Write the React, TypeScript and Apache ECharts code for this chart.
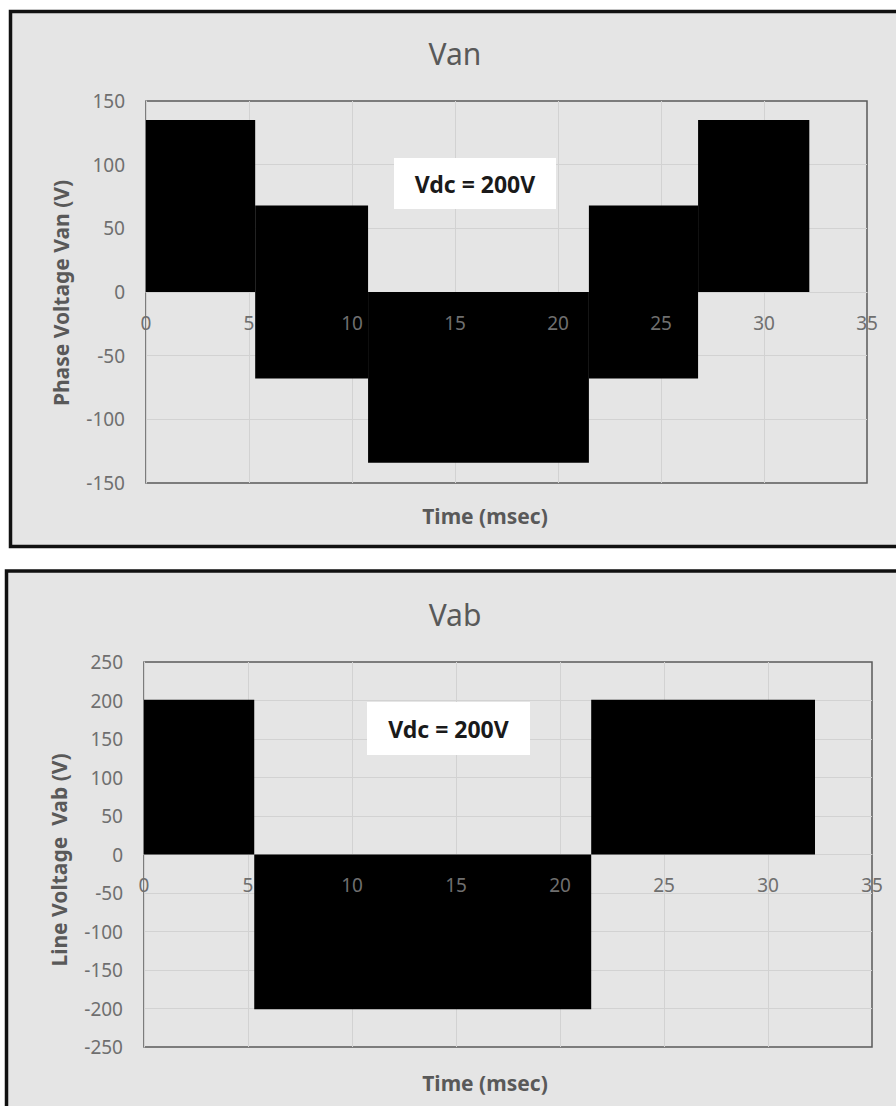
import React, { useEffect, useRef } from "react";
import * as echarts from "echarts";

// Time axis ticks (msec)
const timeTicks = [0, 5, 10, 15, 20, 25, 30, 35];
// Phase voltage Van blocks: [tStart, tEnd, vLow, vHigh]
const vanBlocks = [
  [0, 5.3, 0, 135],
  [5.3, 10.78, -68, 68],
  [10.78, 21.5, -134, 0],
  [21.5, 26.8, -68, 68],
  [26.8, 32.2, 0, 135],
];
// Line voltage Vab blocks: [tStart, tEnd, vLow, vHigh]
const vabBlocks = [
  [0, 5.3, 0, 201],
  [5.3, 21.5, -201, 0],
  [21.5, 32.26, 0, 201],
];
const vanTicks = [-150, -100, -50, 0, 50, 100, 150];
const vabTicks = [-250, -200, -150, -100, -50, 0, 50, 100, 150, 200, 250];

const FONT = "'Noto Sans', 'Open Sans', sans-serif";
const LABEL = "#6f6f6f";
const GRIDC = "#d2d2d2";

const GRID_TOP = { left: 146, top: 101, width: 721, height: 382 };
const GRID_BOT = { left: 144, top: 662, width: 728, height: 385 };

function renderBlock(params: any, api: any) {
  const p0 = api.coord([api.value(0), api.value(3)]);
  const p1 = api.coord([api.value(1), api.value(2)]);
  return {
    type: "rect",
    shape: { x: p0[0], y: p0[1], width: p1[0] - p0[0], height: p1[1] - p0[1] },
    style: { fill: "#000" },
  };
}

// x axis drawn at the zero line of the y axis
function xAxisFor(gridIndex: number, ticks: number[], gridHeight: number, labelsOnly: boolean) {
  const lo = ticks[0];
  const hi = ticks[ticks.length - 1];
  const zeroFromBottom = ((0 - lo) / (hi - lo)) * gridHeight;
  return {
    type: "value",
    gridIndex,
    position: "bottom",
    offset: -zeroFromBottom,
    z: labelsOnly ? 10 : 0,
    min: timeTicks[0],
    max: timeTicks[timeTicks.length - 1],
    interval: 5,
    axisLine: { show: !labelsOnly, onZero: false, lineStyle: { color: GRIDC, width: 1 } },
    axisTick: { show: false },
    axisLabel: { show: labelsOnly, color: LABEL, fontSize: 19, fontFamily: FONT, margin: 21 },
    splitLine: { show: !labelsOnly, showMinLine: false, showMaxLine: false, lineStyle: { color: GRIDC, width: 1 } },
  };
}

function yAxisFor(gridIndex: number, ticks: number[], step: number) {
  return {
    type: "value",
    gridIndex,
    min: ticks[0],
    max: ticks[ticks.length - 1],
    interval: step,
    axisLine: { show: true, onZero: false, lineStyle: { color: GRIDC, width: 1 } },
    axisTick: { show: false },
    axisLabel: { color: LABEL, fontSize: 19, fontFamily: FONT, margin: 21 },
    splitLine: { show: true, showMinLine: false, showMaxLine: false, lineStyle: { color: GRIDC, width: 1 } },
  };
}

export default function App() {
  const ref = useRef<HTMLDivElement>(null);
  useEffect(() => {
    if (!ref.current) return;
    const chart = echarts.init(ref.current, undefined, { renderer: "svg" });
    const textStyle = (t: string, size: number, weight: string, color: string) => ({
      text: t,
      fontSize: size,
      fontWeight: weight,
      fontFamily: FONT,
      fill: color,
      align: "center",
      verticalAlign: "middle",
    });
    chart.setOption({
      animation: false,
      backgroundColor: "#ffffff",
      grid: [
        { ...GRID_TOP, show: true, borderColor: "#5a5a5a", borderWidth: 1.5, backgroundColor: "transparent" },
        { ...GRID_BOT, show: true, borderColor: "#5a5a5a", borderWidth: 1.5, backgroundColor: "transparent" },
      ],
      xAxis: [
        xAxisFor(0, vanTicks, GRID_TOP.height, false),
        xAxisFor(1, vabTicks, GRID_BOT.height, false),
        xAxisFor(0, vanTicks, GRID_TOP.height, true),
        xAxisFor(1, vabTicks, GRID_BOT.height, true),
      ],
      yAxis: [yAxisFor(0, vanTicks, 50), yAxisFor(1, vabTicks, 50)],
      series: [
        {
          type: "custom",
          name: "Van",
          xAxisIndex: 0,
          yAxisIndex: 0,
          renderItem: renderBlock,
          encode: { x: [0, 1], y: [2, 3] },
          data: vanBlocks,
          z: 3,
        },
        {
          type: "custom",
          name: "Vab",
          xAxisIndex: 1,
          yAxisIndex: 1,
          renderItem: renderBlock,
          encode: { x: [0, 1], y: [2, 3] },
          data: vabBlocks,
          z: 3,
        },
      ],
      graphic: [
        { type: "rect", z: -10, silent: true, shape: { x: 10.5, y: 11.5, width: 900, height: 535 }, style: { fill: "#e5e5e5", stroke: "#111", lineWidth: 3.5 } },
        { type: "rect", z: -10, silent: true, shape: { x: 6.5, y: 571, width: 900, height: 600 }, style: { fill: "#e5e5e5", stroke: "#111", lineWidth: 3.5 } },
        { type: "text", z: 10, x: 455, y: 53, style: textStyle("Van", 30, "normal", "#595959") },
        { type: "text", z: 10, x: 455, y: 614, style: textStyle("Vab", 30, "normal", "#595959") },
        { type: "text", z: 10, x: 485, y: 516, style: textStyle("Time (msec)", 21, "bold", "#595959") },
        { type: "text", z: 10, x: 485, y: 1083, style: textStyle("Time (msec)", 21, "bold", "#595959") },
        { type: "text", z: 10, x: 61, y: 293, rotation: Math.PI / 2, style: textStyle("Phase Voltage Van (V)", 21, "bold", "#595959") },
        { type: "text", z: 10, x: 59, y: 860, rotation: Math.PI / 2, style: textStyle("Line Voltage  Vab (V)", 21, "bold", "#595959") },
        { type: "rect", z: 10, shape: { x: 394, y: 158, width: 162, height: 51 }, style: { fill: "#ffffff" } },
        { type: "text", z: 11, x: 475, y: 184, style: textStyle("Vdc = 200V", 23, "bold", "#1a1a1a") },
        { type: "rect", z: 10, shape: { x: 367, y: 702, width: 163, height: 53 }, style: { fill: "#ffffff" } },
        { type: "text", z: 11, x: 448.5, y: 729, style: textStyle("Vdc = 200V", 23, "bold", "#1a1a1a") },
      ],
    });
    return () => chart.dispose();
  }, []);
  return (
    <div
      ref={ref}
      style={{ position: "absolute", left: 0, top: 0, width: 896, height: 1106 }}
    />
  );
}
